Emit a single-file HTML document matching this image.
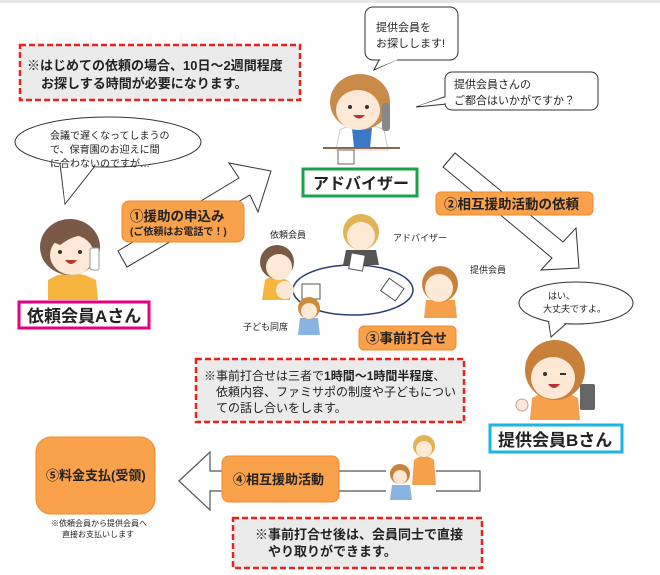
<!DOCTYPE html>
<html><head><meta charset="utf-8"><style>
html,body{margin:0;padding:0;background:#fff;}
svg{display:block;}
text{font-family:"Liberation Sans","Noto Sans CJK JP",sans-serif;fill:#222;}
.b{font-weight:bold;}
</style></head><body>
<svg width="660" height="575" viewBox="0 0 660 575" xmlns="http://www.w3.org/2000/svg">
<defs>
<g id="face">
</g>
</defs>
<rect x="0" y="0" width="660" height="3" fill="#e6e6e6"/>

<!-- red dashed box 1 -->
<rect x="20" y="45" width="280" height="55" fill="#ebebeb" stroke="#e8231f" stroke-width="2.5" stroke-dasharray="6,3"/>
<text x="27" y="70" font-size="13" class="b">※はじめての依頼の場合、10日～2週間程度</text>
<text x="41" y="88" font-size="13" class="b">お探しする時間が必要になります。</text>

<!-- ellipse bubble A -->
<path d="M60,164 L65,204 L95,166" fill="#fff" stroke="#333" stroke-width="1"/>
<ellipse cx="108" cy="142" rx="93" ry="25" fill="#fff" stroke="#333" stroke-width="1"/>
<path d="M61,163 L65,203 L94,166 Z" fill="#fff"/>
<text x="50" y="139" font-size="10">会議で遅くなってしまうの</text>
<text x="50" y="153" font-size="10">で、保育園のお迎えに間</text>
<text x="50" y="167" font-size="10">に合わないのですが…</text>

<!-- person A -->
<path d="M48,300 L48,280 Q70,266 96,280 L98,300 Z" fill="#f5b53f"/>
<ellipse cx="70" cy="247" rx="30" ry="28" fill="#7a5a46"/>
<ellipse cx="72" cy="255" rx="22" ry="20" fill="#fde9d6"/>
<path d="M48,240 Q70,215 95,238 Q80,230 60,245 Z" fill="#7a5a46"/>
<circle cx="60" cy="252" r="2" fill="#333"/><circle cx="80" cy="252" r="2" fill="#333"/>
<path d="M65,260 Q71,268 77,260 Z" fill="#b33"/>
<rect x="90" y="248" width="9" height="22" rx="2" fill="#fff" stroke="#999"/>

<!-- pink box -->
<rect x="19" y="302" width="130" height="26" fill="#fff" stroke="#e6007e" stroke-width="3"/>
<text x="27" y="322" font-size="17" class="b">依頼会員Aさん</text>

<!-- arrow 1 -->
<polygon points="118,251 239,178 229,163 271,171 258,212 250,195 127,267" fill="#fff" stroke="#333" stroke-width="1"/>
<rect x="122" y="201" width="122" height="41" rx="7" fill="#f9a24b" stroke="#f08a2a"/>
<text x="130" y="221" font-size="13.5" class="b">①援助の申込み</text>
<text x="130" y="235" font-size="10" class="b">(ご依頼はお電話で！)</text>

<!-- bubbles advisor -->
<path d="M380,58 L374,70 L400,58" fill="#fff" stroke="#333"/>
<rect x="365" y="7" width="93" height="53" rx="8" fill="#fff" stroke="#333"/>
<path d="M381,59 L375,69 L399,59 Z" fill="#fff"/>
<text x="376" y="31" font-size="11">提供会員を</text>
<text x="376" y="47" font-size="11">お探しします!</text>
<path d="M447,96 L416,107 L447,104" fill="#fff" stroke="#333"/>
<rect x="445" y="72" width="153" height="38" rx="7" fill="#fff" stroke="#333"/>
<path d="M446,97 L418,106 L446,103 Z" fill="#fff"/>
<text x="454" y="88" font-size="11">提供会員さんの</text>
<text x="454" y="104" font-size="11">ご都合はいかがですか？</text>

<!-- advisor person -->
<path d="M336,150 L340,130 Q362,118 384,130 L388,150 Z" fill="#fff" stroke="#ccc"/>
<path d="M352,128 L372,128 L370,148 L354,148 Z" fill="#3a79c8"/>
<ellipse cx="360" cy="102" rx="30" ry="28" fill="#c98a4a"/>
<ellipse cx="358" cy="110" rx="22" ry="20" fill="#fde9d6"/>
<circle cx="350" cy="107" r="2" fill="#333"/><circle cx="367" cy="107" r="2" fill="#333"/>
<path d="M353,115 Q359,122 365,115 Z" fill="#b33"/>
<rect x="382" y="103" width="8" height="28" rx="3" fill="#888"/>
<line x1="323" y1="148" x2="400" y2="148" stroke="#8a6a4a" stroke-width="2"/>
<rect x="338" y="150" width="16" height="14" fill="#fff" stroke="#666"/>

<!-- green box -->
<rect x="303" y="169" width="114" height="27" fill="#fff" stroke="#1aa34a" stroke-width="3"/>
<text x="313" y="189" font-size="16" class="b">アドバイザー</text>

<!-- arrow 2 -->
<polygon points="443,167 455,153 563,242 576,228 579,268 541,270 552,258" fill="#fff" stroke="#333" stroke-width="1"/>
<rect x="436" y="192" width="157" height="23" rx="5" fill="#f9a24b" stroke="#f08a2a"/>
<text x="444" y="209" font-size="13.5" class="b">②相互援助活動の依頼</text>

<!-- meeting -->
<ellipse cx="353" cy="290" rx="60" ry="25" fill="#fff" stroke="#2a3f6f" stroke-width="1.5"/>
<rect x="302" y="284" width="18" height="15" fill="#fff" stroke="#555"/>
<rect x="383" y="282" width="18" height="15" fill="#fff" stroke="#555" transform="rotate(35 392 290)"/>
<text x="270" y="238" font-size="9">依頼会員</text>
<text x="393" y="241" font-size="9">アドバイザー</text>
<text x="470" y="273" font-size="9">提供会員</text>
<text x="243" y="330" font-size="9">子ども同席</text>
<!-- 依頼会員 small -->
<path d="M262,300 L265,280 Q275,272 290,282 L290,300 Z" fill="#f5b53f"/>
<circle cx="277" cy="262" r="17" fill="#7a5a46"/>
<circle cx="279" cy="267" r="13" fill="#fde9d6"/>
<circle cx="285" cy="290" r="9" fill="#fde9d6"/>
<!-- child -->
<path d="M298,335 L300,318 L318,318 L320,335 Z" fill="#8ab4e0"/>
<circle cx="309" cy="308" r="11" fill="#d08a3a"/>
<circle cx="309" cy="311" r="8" fill="#fde9d6"/>
<!-- advisor small -->
<path d="M343,265 L346,250 L376,250 L379,265 Z" fill="#555"/>
<circle cx="361" cy="232" r="18" fill="#e2b352"/>
<circle cx="361" cy="236" r="14" fill="#fde9d6"/>
<rect x="350" y="254" width="14" height="16" fill="#fff" stroke="#555" transform="rotate(10 357 262)"/>
<!-- provider small -->
<path d="M424,318 L426,300 L455,300 L457,318 Z" fill="#f5a04a"/>
<circle cx="440" cy="284" r="18" fill="#c8803a"/>
<circle cx="439" cy="288" r="14" fill="#fde9d6"/>

<rect x="359" y="326" width="97" height="24" rx="5" fill="#f9a24b" stroke="#f08a2a"/>
<text x="366" y="343" font-size="13.5" class="b">③事前打合せ</text>

<!-- red dashed box 2 -->
<rect x="196" y="359" width="268" height="63" fill="#ebebeb" stroke="#e8231f" stroke-width="2.5" stroke-dasharray="6,3"/>
<text x="204" y="380" font-size="12">※事前打合せは三者で<tspan class="b">1時間～1時間半程度</tspan>、</text>
<text x="216" y="396" font-size="12">依頼内容、ファミサポの制度や子どもについ</text>
<text x="216" y="412" font-size="12">ての話し合いをします。</text>

<!-- bubble B -->
<path d="M548,318 L551,337 L568,322" fill="#fff" stroke="#333"/>
<ellipse cx="576" cy="303" rx="57" ry="21" fill="#fff" stroke="#333"/>
<path d="M549,319 L551,335 L566,322 Z" fill="#fff"/>
<text x="548" y="299" font-size="9">はい、</text>
<text x="543" y="312" font-size="9">大丈夫ですよ。</text>

<!-- person B -->
<path d="M530,420 L532,398 Q555,385 578,398 L580,420 Z" fill="#f5a04a"/>
<ellipse cx="555" cy="370" rx="30" ry="30" fill="#c8803a"/>
<ellipse cx="553" cy="378" rx="22" ry="21" fill="#fde9d6"/>
<circle cx="545" cy="374" r="2" fill="#333"/><path d="M560,374 l6,0" stroke="#333" stroke-width="2"/>
<path d="M548,384 Q554,392 560,384 Z" fill="#b33"/>
<rect x="580" y="384" width="15" height="26" rx="2" fill="#666"/>
<circle cx="522" cy="405" r="6" fill="#fde9d6" stroke="#c99"/>

<rect x="490" y="425" width="132" height="27" fill="#fff" stroke="#1ab4e6" stroke-width="3"/>
<text x="498" y="446" font-size="17" class="b">提供会員Bさん</text>

<!-- ⑤ box -->
<rect x="36" y="437" width="119" height="77" rx="15" fill="#f9a24b" stroke="#f08a2a"/>
<text x="46" y="480" font-size="13" class="b">⑤料金支払(受領)</text>
<text x="51" y="526" font-size="8">※依頼会員から提供会員へ</text>
<text x="62" y="537" font-size="8">直接お支払いします</text>

<!-- big left arrow -->
<polygon points="179,481 210,452 210,471 480,471 480,491 210,491 210,510" fill="#fff" stroke="#555" stroke-width="1.2"/>
<rect x="386" y="465" width="50" height="32" fill="#fff"/>
<rect x="222" y="456" width="117" height="46" rx="7" fill="#f9a24b" stroke="#f08a2a"/>
<text x="233" y="484" font-size="13" class="b">④相互援助活動</text>
<!-- kids -->
<path d="M412,485 L414,460 Q424,452 434,460 L436,485 Z" fill="#f5a04a"/>
<circle cx="424" cy="446" r="11" fill="#e2b352"/>
<circle cx="424" cy="449" r="8" fill="#fde9d6"/>
<path d="M390,500 L392,485 L410,485 L412,500 Z" fill="#8ab4e0"/>
<circle cx="400" cy="474" r="10" fill="#c8803a"/>
<circle cx="400" cy="477" r="7" fill="#fde9d6"/>

<!-- red dashed box 3 -->
<rect x="233" y="518" width="249" height="50" fill="#ebebeb" stroke="#e8231f" stroke-width="2.5" stroke-dasharray="6,3"/>
<text x="255" y="539" font-size="13" class="b">※事前打合せ後は、会員同士で直接</text>
<text x="268" y="556" font-size="13" class="b">やり取りができます。</text>
</svg>
</body></html>
